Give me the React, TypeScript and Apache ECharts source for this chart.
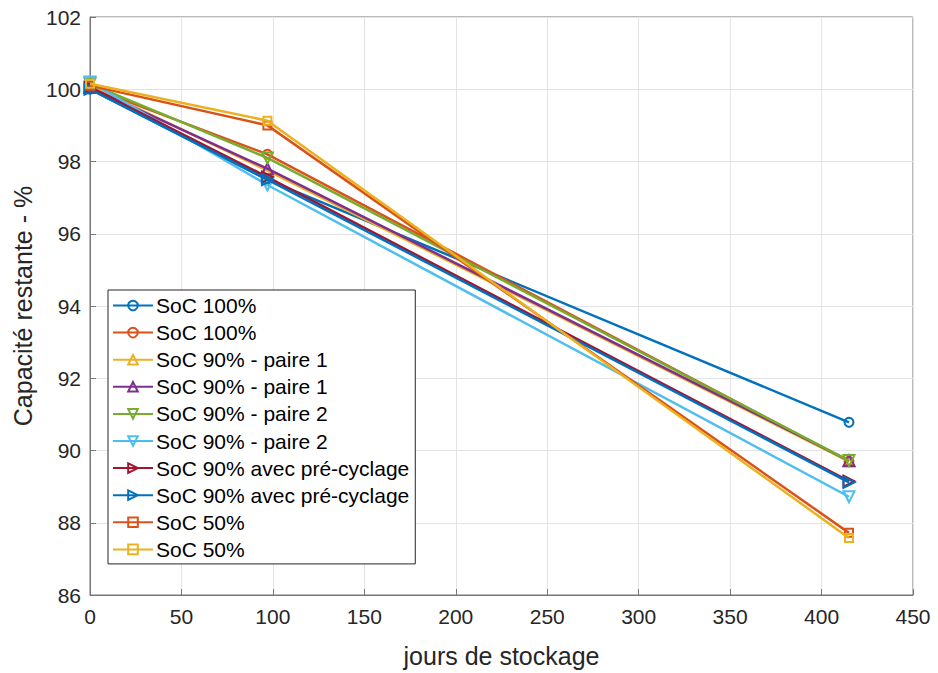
import React, { useEffect, useRef } from "react";
import * as echarts from "echarts";

const days = [0, 97, 415];
const seriesNames = [
  "SoC 100%",
  "SoC 100%",
  "SoC 90% - paire 1",
  "SoC 90% - paire 1",
  "SoC 90% - paire 2",
  "SoC 90% - paire 2",
  "SoC 90% avec pré-cyclage",
  "SoC 90% avec pré-cyclage",
  "SoC 50%",
  "SoC 50%",
];
const soc100a = [100.0, 97.5, 90.78];
const soc100b = [100.05, 98.2, 89.7];
const soc90p1a = [100.1, 97.75, 89.7];
const soc90p1b = [100.05, 97.8, 89.72];
const soc90p2a = [100.15, 98.1, 89.72];
const soc90p2b = [100.2, 97.35, 88.72];
const soc90preA = [100.05, 97.57, 89.15];
const soc90preB = [100.0, 97.5, 89.12];
const soc50a = [100.1, 99.0, 87.72];
const soc50b = [100.15, 99.13, 87.58];
const allValues = [soc100a, soc100b, soc90p1a, soc90p1b, soc90p2a, soc90p2b, soc90preA, soc90preB, soc50a, soc50b];

const colors = ["#0072BD", "#D95319", "#EDB120", "#7E2F8E", "#77AC30", "#4DBEEE", "#A2142F", "#0072BD", "#D95319", "#EDB120"];
const symbols = ["circle", "circle", "triangle", "triangle", "triangle", "triangle", "triangle", "triangle", "rect", "rect"];
const rotations = [0, 0, 0, 0, 180, 180, -90, -90, 0, 0];
const sizes = [9, 9, 11, 11, 11, 11, 11, 11, 8, 8];

export default function App() {
  const ref = useRef<HTMLDivElement>(null);
  useEffect(() => {
    if (!ref.current) return;
    const chart = echarts.init(ref.current, undefined, { renderer: "svg" });
    const font = "'Liberation Sans', Arial, Helvetica, sans-serif";
    chart.setOption({
      animation: false,
      textStyle: { fontFamily: font },
      grid: { left: 90, right: 25, top: 17, bottom: 75, show: true, borderColor: "#777", borderWidth: 1 },
      legend: {
        orient: "vertical",
        left: 108,
        top: 290,
        backgroundColor: "#fff",
        borderColor: "#262626",
        borderWidth: 1,
        padding: [5, 6, 4, 4],
        itemGap: 6.1,
        itemWidth: 40,
        itemHeight: 12,
        textStyle: { fontSize: 21, color: "#000", fontFamily: font, lineHeight: 20, padding: [0, 0, 0, -2] },
        data: seriesNames.map((n, i) => ({ name: n + "\u200B".repeat(i) })),
      },
      xAxis: {
        type: "value",
        min: 0,
        max: 450,
        interval: 50,
        name: "jours de stockage",
        nameLocation: "middle",
        nameGap: 48,
        nameTextStyle: { fontSize: 25, color: "#262626" },
        axisLine: { show: true, lineStyle: { color: "#777", width: 1 } },
        axisTick: { show: true, inside: true, length: 6, lineStyle: { color: "#777" } },
        axisLabel: { fontSize: 21, color: "#262626", margin: 11 },
        splitLine: { show: true, lineStyle: { color: "#e3e3e3", width: 1 } },
      },
      yAxis: {
        type: "value",
        min: 86,
        max: 102,
        interval: 2,
        name: "Capacité restante - %",
        nameLocation: "middle",
        nameGap: 55,
        nameTextStyle: { fontSize: 25, color: "#262626" },
        axisLine: { show: true, lineStyle: { color: "#777", width: 1 } },
        axisTick: { show: true, inside: true, length: 6, lineStyle: { color: "#777" } },
        axisLabel: { fontSize: 21, color: "#262626", margin: 9 },
        splitLine: { show: true, lineStyle: { color: "#e3e3e3", width: 1 } },
      },
      series: allValues.map((vals, i) => ({
        type: "line",
        name: seriesNames[i] + "\u200B".repeat(i),
        data: days.map((d, j) => [d, vals[j]]),
        symbol: symbols[i],
        symbolSize: sizes[i],
        symbolRotate: rotations[i],
        showAllSymbol: true,
        color: colors[i],
        lineStyle: { color: colors[i], width: 2.5 },
        itemStyle: { color: "rgba(255,255,255,0)", borderColor: colors[i], borderWidth: 2 },
        z: 2 + i,
      })),
    });
    return () => chart.dispose();
  }, []);
  return <div ref={ref} style={{ width: 938, height: 673, position: "absolute", left: 0, top: 0 }} />;
}
